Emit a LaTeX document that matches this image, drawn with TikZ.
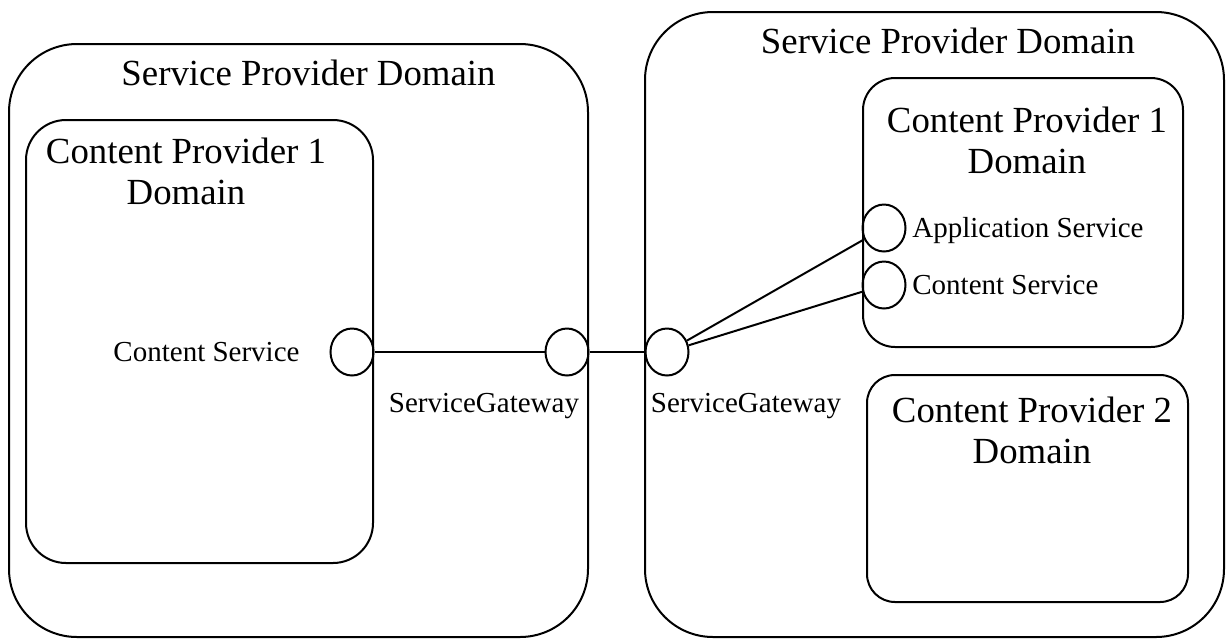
\documentclass[tikz,border=0pt]{standalone}
\usepackage{fontspec}
\setmainfont{Liberation Serif}
\usetikzlibrary{shapes.geometric}

\tikzset{
  domainbox/.style={draw, line width=1pt},
  bigtext/.style={font=\fontsize{18.4}{20.5}\selectfont, inner sep=0pt, align=center},
  smalltext/.style={font=\fontsize{14.5}{17}\selectfont, inner sep=0pt},
  port/.style={draw, line width=1pt, ellipse, inner sep=0pt,
    minimum width=21.5pt, minimum height=23.5pt},
  wire/.style={line width=1pt}
}

\begin{document}
\begin{tikzpicture}[x=0.5pt, y=-0.5pt]
  \useasboundingbox (0,0) rectangle (1228,639);

  % service provider domains
  \draw[domainbox, rounded corners=34pt] (9,44) rectangle (588,637);
  \draw[domainbox, rounded corners=34pt] (645,12) rectangle (1224,637);

  % content provider domains
  \draw[domainbox, rounded corners=20pt] (26,120) rectangle (373,563);
  \draw[domainbox, rounded corners=16pt] (863,78) rectangle (1183,347);
  \draw[domainbox, rounded corners=14pt] (867,375) rectangle (1188,602);

  % titles (base anchor sits on the last line)
  \node[bigtext, anchor=base] (sp1title) at (308.5,85) {Service Provider Domain};
  \node[bigtext, anchor=base] (sp2title) at (948,53) {Service Provider Domain};
  \node[bigtext, anchor=base] (cp1ltitle) at (186,204) {Content Provider 1\\Domain};
  \node[bigtext, anchor=base] (cp1rtitle) at (1027,173) {Content Provider 1\\Domain};
  \node[bigtext, anchor=base] (cp2title) at (1032,463) {Content Provider 2\\Domain};

  % service ports
  \node[port] (cs1) at (352,352) {};
  \node[port] (gw1) at (567,352) {};
  \node[port] (gw2) at (667,352) {};
  \node[port] (app) at (884,228) {};
  \node[port] (cs2) at (884,285) {};

  % port labels
  \node[smalltext, anchor=base] (cs1lbl) at (206.5,361) {Content Service};
  \node[smalltext, anchor=base] (gw1lbl) at (484,412) {ServiceGateway};
  \node[smalltext, anchor=base] (gw2lbl) at (746,412) {ServiceGateway};
  \node[smalltext, anchor=base west] (applbl) at (912,237) {Application Service};
  \node[smalltext, anchor=base west] (cs2lbl) at (912,294) {Content Service};

  % connections
  \draw[wire] (cs1) -- (gw1);
  \draw[wire] (gw1) -- (gw2);
  \draw[wire] (gw2) -- (app);
  \draw[wire] (gw2) -- (cs2);
\end{tikzpicture}
\end{document}
